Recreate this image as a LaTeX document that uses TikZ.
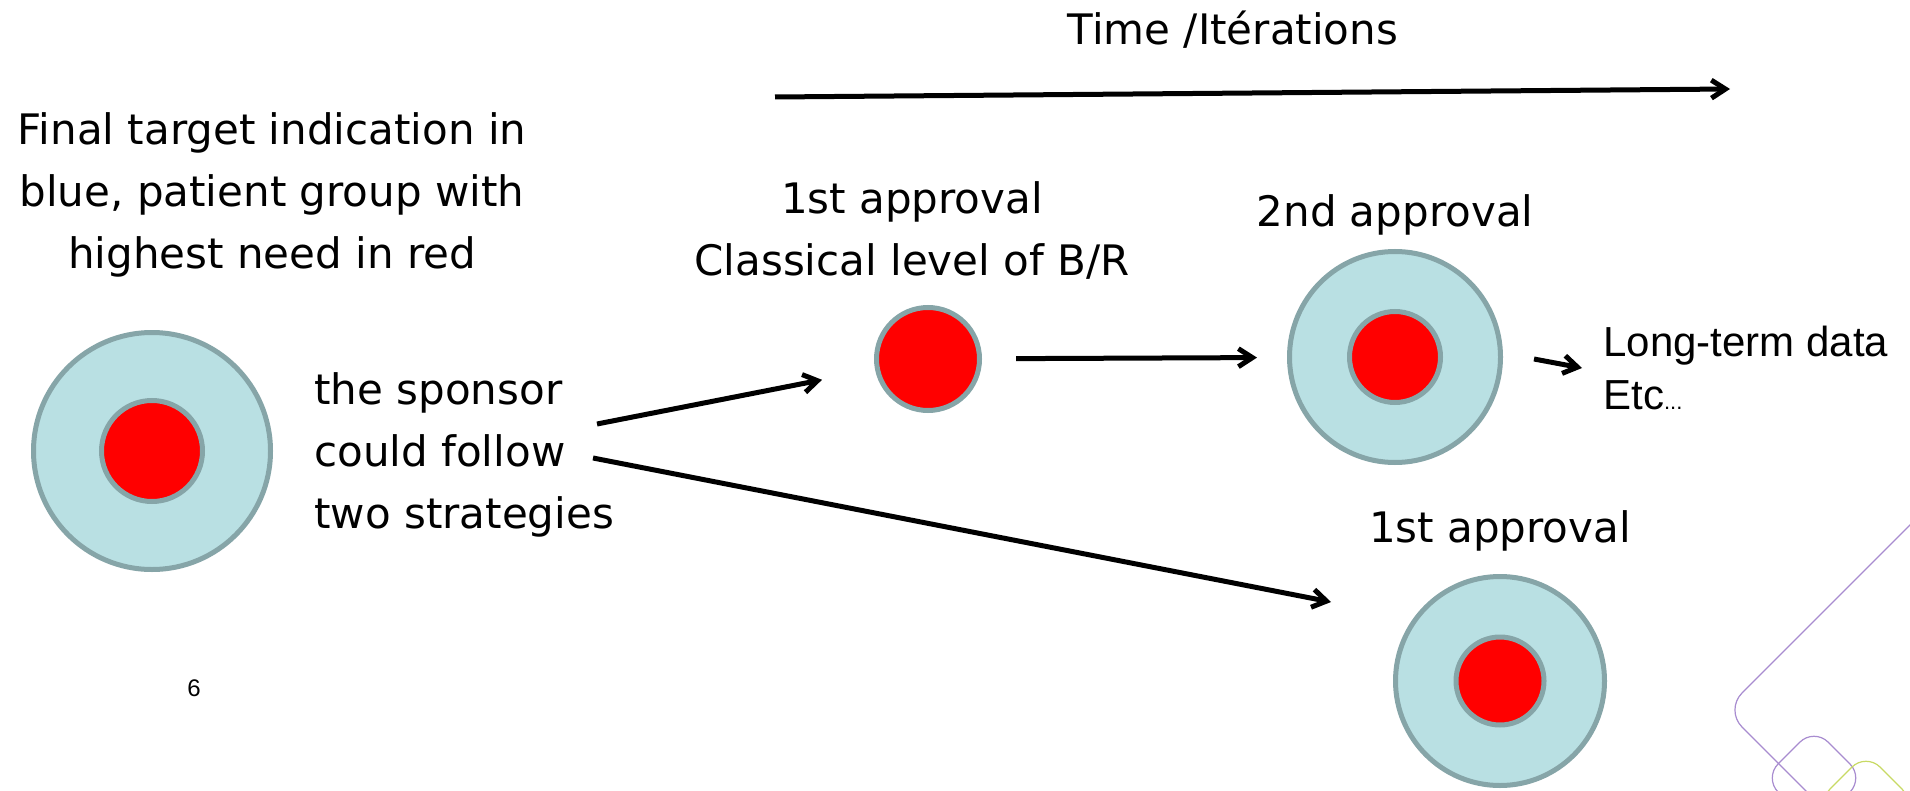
\documentclass[tikz,border=0pt]{standalone}
\usepackage{fontspec}
\setmainfont{DejaVu Sans}
\newfontfamily\arialfont{Liberation Sans}
\usetikzlibrary{%
  arrows.meta,%
  positioning% wg. " of "
}
\definecolor{ringblue}{RGB}{185,224,227}
\definecolor{ringgray}{RGB}{134,165,168}
\definecolor{corered}{RGB}{255,0,0}
\definecolor{decopurple}{RGB}{168,140,208}
\definecolor{decogreen}{RGB}{200,218,100}

\begin{document}
\begin{tikzpicture}[x=0.5pt,y=-0.5pt]
       \tikzset{ring/.style={circle, draw=ringgray, fill=ringblue, line width=2.5pt,
                inner sep=0pt, minimum size=#1}}

       \tikzset{core/.style={circle, draw=ringgray, fill=corered, line width=2.5pt,
                inner sep=0pt, minimum size=#1}}

       \tikzset{lbl/.style={font=\fontsize{21}{31}\selectfont, align=center, inner sep=0pt}}

       \tikzset{flow/.style={->, line width=2.5pt, >={Straight Barb[length=7pt,width=9pt]}}}

        \path[use as bounding box, fill=white] (0,0) rectangle (1910,791);

        % slide decoration
        \begin{scope}
        \clip (0,0) rectangle (1910,791);
        \draw[decopurple, line width=0.6pt, rounded corners=12pt] (1915,520) -- (1725,710) -- (1815,800);
        \draw[decopurple, line width=0.6pt, rounded corners=10pt] (1814,728) -- (1864,778) -- (1814,828) -- (1764,778) -- cycle;
        \draw[decogreen, line width=0.6pt, rounded corners=10pt] (1866,753) -- (1916,803) -- (1866,853) -- (1816,803) -- cycle;
        \end{scope}

        \node[ring=118.5pt] (target) at (152,451) {};
        \node[core=50.5pt] (targetcore) at (target) {};
        \node[core=51.5pt] (first) at (928,359) {};
        \node[ring=105.5pt] (second) at (1395,357) {};
        \node[core=45.5pt] (secondcore) at (second) {};
        \node[ring=104.5pt] (alt) at (1500,681) {};
        \node[core=44pt] (altcore) at (alt) {};

        \node[lbl, anchor=base] (time) at (1233,45) {Time /Itérations};
        \node[lbl] (goal) at (272,195) {Final target indication in\\blue, patient group with\\highest need in red};
        \node[lbl] (firstlbl) at (912,230) {1st approval\\Classical level of B/R};
        \node[lbl, above=6.5pt of second] (secondlbl) {2nd approval};
        \node[lbl, above=11pt of alt] (altlbl) {1st approval};
        \node[lbl, align=left, anchor=west] (sponsor) at (314,455) {the sponsor\\could follow\\two strategies};
        \node[inner sep=0pt, align=left, anchor=west, font=\arialfont\fontsize{21}{26.5}\selectfont]
             (longterm) at (1603,368) {Long-term data\\Etc{\fontsize{11}{13}\selectfont...}};
        \node[inner sep=0pt, font=\arialfont\fontsize{12}{14}\selectfont] (page) at (194,688) {6};

        \coordinate (timeA) at (775,97);
        \coordinate (timeB) at (1730,89);
        \coordinate (up0) at (597,424);
        \coordinate (down0) at (593,458);
        \coordinate (down1) at (1331,602);
        \coordinate (lt0) at (1534,359);
        \coordinate (lt1) at (1582,368);

        \draw[flow](timeA) -- (timeB);
        \draw[flow, shorten >=27pt](up0) -- (first);
        \draw[flow](down0) -- (down1);
        \draw[flow, shorten <=17pt, shorten >=15pt](first) -- (second);
        \draw[flow](lt0) -- (lt1);

\end{tikzpicture}
\end{document}
